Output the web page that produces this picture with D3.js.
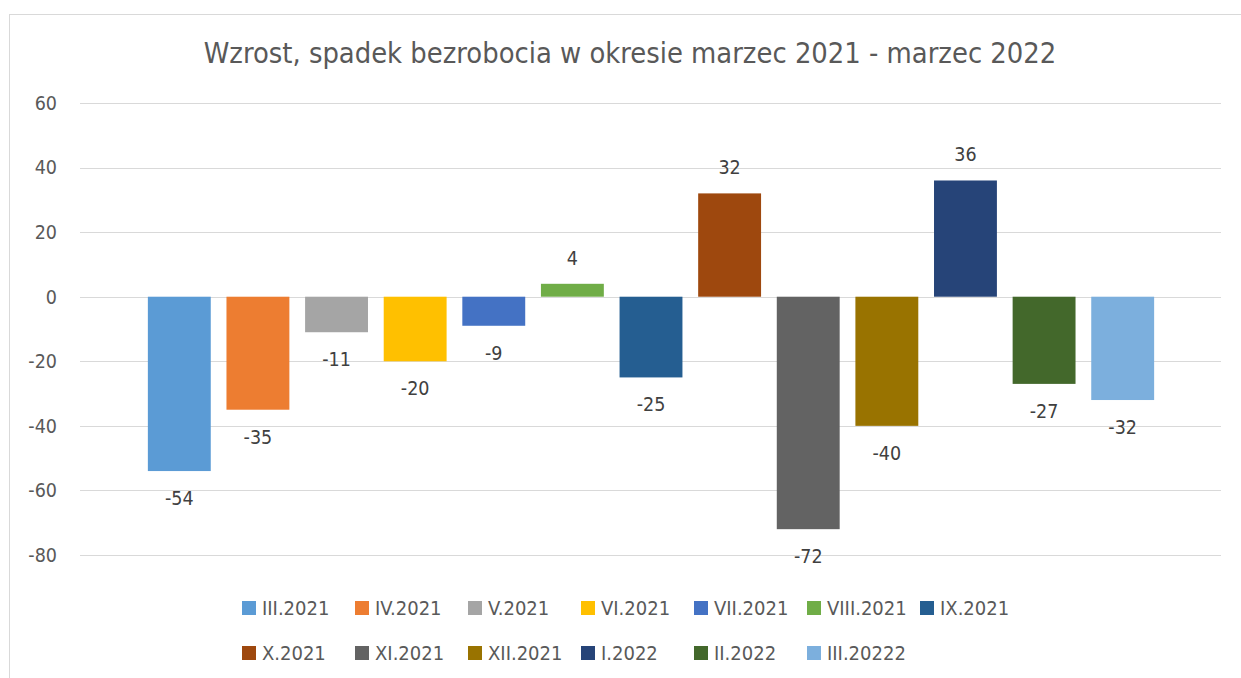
<!DOCTYPE html>
<html><head><meta charset="utf-8">
<script src="https://cdn.jsdelivr.net/npm/d3@7"></script>
<style>body{margin:0;background:#fff}svg{display:block}</style>
</head><body>
<svg id="c" width="1241" height="678"></svg>
<script>
const title = "Wzrost, spadek bezrobocia w okresie marzec 2021 - marzec 2022";
const categories = ["III.2021","IV.2021","V.2021","VI.2021","VII.2021","VIII.2021","IX.2021","X.2021","XI.2021","XII.2021","I.2022","II.2022","III.20222"];
const values = [-54,-35,-11,-20,-9,4,-25,32,-72,-40,36,-27,-32];
const colors = ["#5B9BD5","#ED7D31","#A5A5A5","#FFC000","#4472C4","#70AD47","#255E91","#9E480E","#636363","#997300","#264478","#43682B","#7CAFDD"];
const yTicks = [60,40,20,0,-20,-40,-60,-80];

const font = "'DejaVu Sans Condensed', 'DejaVu Sans', sans-serif";
const svg = d3.select("#c");
svg.append("rect").attr("x",9.5).attr("y",14.5).attr("width",1250).attr("height",700)
  .attr("fill","none").attr("stroke","#d9d9d9").attr("stroke-width",1);

svg.append("text").attr("x",630).attr("y",63).attr("text-anchor","middle")
  .attr("font-family",font).attr("font-size",28.8).attr("fill","#595959").text(title);

const y = d3.scaleLinear().domain([-80,60]).range([555,103]);
const gridX0 = 80, gridX1 = 1221;
const x = d3.scaleBand().domain(categories).range([140,1162]).paddingInner(0.2).paddingOuter(0.1);

svg.append("g").selectAll("line").data(yTicks).join("line")
  .attr("x1",gridX0).attr("x2",gridX1)
  .attr("y1",d=>Math.round(y(d))+0.5).attr("y2",d=>Math.round(y(d))+0.5)
  .attr("stroke","#d9d9d9").attr("stroke-width",1);

svg.append("g").selectAll("text").data(yTicks).join("text")
  .attr("x",57).attr("y",d=>y(d)).attr("dy","0.35em").attr("text-anchor","end")
  .attr("font-family",font).attr("font-size",19.5).attr("fill","#595959").text(d=>d);

svg.append("g").selectAll("rect").data(values).join("rect")
  .attr("x",(d,i)=>x(categories[i])).attr("width",x.bandwidth())
  .attr("y",d=>y(Math.max(0,d))).attr("height",d=>Math.abs(y(d)-y(0)))
  .attr("fill",(d,i)=>colors[i]);

svg.append("g").selectAll("text").data(values).join("text")
  .attr("x",(d,i)=>x(categories[i])+x.bandwidth()/2)
  .attr("y",d=> d>=0 ? y(d)-26 : y(d)+27).attr("dy","0.35em")
  .attr("text-anchor","middle").attr("font-family",font).attr("font-size",19.5).attr("fill","#404040")
  .text(d=>d);

const lg = svg.append("g").selectAll("g").data(categories).join("g")
  .attr("transform",(d,i)=>`translate(${242+ (i%7)*113},${i<7?608:653})`);
lg.append("rect").attr("x",0).attr("y",-7).attr("width",14).attr("height",14).attr("fill",(d,i)=>colors[i]);
lg.append("text").attr("x",20).attr("y",0).attr("dy","0.35em")
  .attr("font-family",font).attr("font-size",20).attr("fill","#595959").text(d=>d);
</script>
</body></html>
